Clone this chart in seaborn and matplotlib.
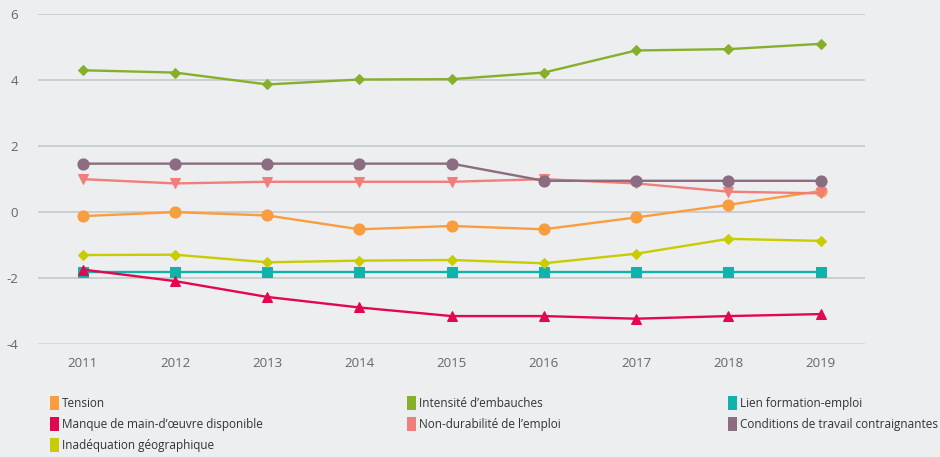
import matplotlib
matplotlib.use("Agg")
import matplotlib.pyplot as plt
from matplotlib.patches import Patch
import seaborn as sns
import pandas as pd

years = [2011, 2012, 2013, 2014, 2015, 2016, 2017, 2018, 2019]

tension = [-0.12, 0.0, -0.1, -0.52, -0.42, -0.52, -0.16, 0.22, 0.64]
intensite = [4.3, 4.23, 3.87, 4.02, 4.03, 4.23, 4.9, 4.94, 5.1]
lien = [-1.82, -1.82, -1.82, -1.82, -1.82, -1.82, -1.82, -1.82, -1.82]
manque = [-1.74, -2.09, -2.57, -2.89, -3.15, -3.15, -3.23, -3.15, -3.09]
non_durabilite = [1.0, 0.87, 0.92, 0.92, 0.92, 1.0, 0.87, 0.62, 0.57]
conditions = [1.47, 1.47, 1.47, 1.47, 1.47, 0.95, 0.95, 0.95, 0.95]
inadequation = [-1.3, -1.29, -1.52, -1.47, -1.45, -1.55, -1.26, -0.81, -0.87]

labels = ["Tension", "Intensité d\u2019embauches", "Lien formation-emploi",
          "Manque de main-d\u2019\u0153uvre disponible", "Non-durabilité de l\u2019emploi",
          "Conditions de travail contraignantes", "Inadéquation géographique"]
series = [tension, intensite, lien, manque, non_durabilite, conditions, inadequation]
colors = ["#F99D3E", "#86B02A", "#10B3AA", "#E2074F", "#F07F7B", "#8B6C80", "#C9CC00"]
markers = ["o", "D", "s", "^", "v", "o", "D"]
msizes = [8, 5.5, 6.5, 7, 7, 8, 5.5]

sns.set_theme(style="white")
plt.rcParams["font.family"] = ["Open Sans", "DejaVu Sans"]
plt.rcParams["axes.unicode_minus"] = False

bg = "#ECEEF0"
fig = plt.figure(figsize=(9.4, 4.57), dpi=100, facecolor=bg)
ax = fig.add_axes([0.040, 0.247, 0.880, 0.722], facecolor=bg)

for y in [-2, 0, 2, 4, 6]:
    ax.axhline(y, color="#C9CCCE", lw=1.3, zorder=0)
ax.axhline(-4, color="#D3DAE5", lw=1.3, zorder=0)

for lab, vals, c, m, ms in zip(labels, series, colors, markers, msizes):
    df = pd.DataFrame({"year": years, "value": vals})
    sns.lineplot(data=df, x="year", y="value", ax=ax, color=c, marker=m,
                 markersize=ms, markeredgecolor=c, linewidth=1.7, zorder=3)

ax.set_xlim(2010.51, 2019.48)
ax.set_ylim(-4, 6)
ax.set_xticks(years)
ax.set_yticks([-4, -2, 0, 2, 4, 6])
ax.set_xlabel("")
ax.set_ylabel("")
ax.tick_params(axis="both", length=0, labelsize=9.5, colors="#666666")
ax.tick_params(axis="y", pad=14)
ax.tick_params(axis="x", pad=9)
for s in ax.spines.values():
    s.set_visible(False)

# legend: three columns, each its own legend so the columns sit where the reference has them
columns = [[0, 3, 6], [1, 4], [2, 5]]
col_x = [50 / 940, 407 / 940, 728 / 940]
for idx, x0 in zip(columns, col_x):
    handles = [Patch(facecolor=colors[i], edgecolor="none") for i in idx]
    fig.legend(handles, [labels[i] for i in idx], loc="upper left",
               bbox_to_anchor=(x0, 0.134), frameon=False, fontsize=8.5,
               handlelength=0.75, handleheight=1.5, handletextpad=0.25,
               labelspacing=0.56, borderpad=0, borderaxespad=0,
               labelcolor="#333333")

plt.savefig("out.png", dpi=100, facecolor=bg)
